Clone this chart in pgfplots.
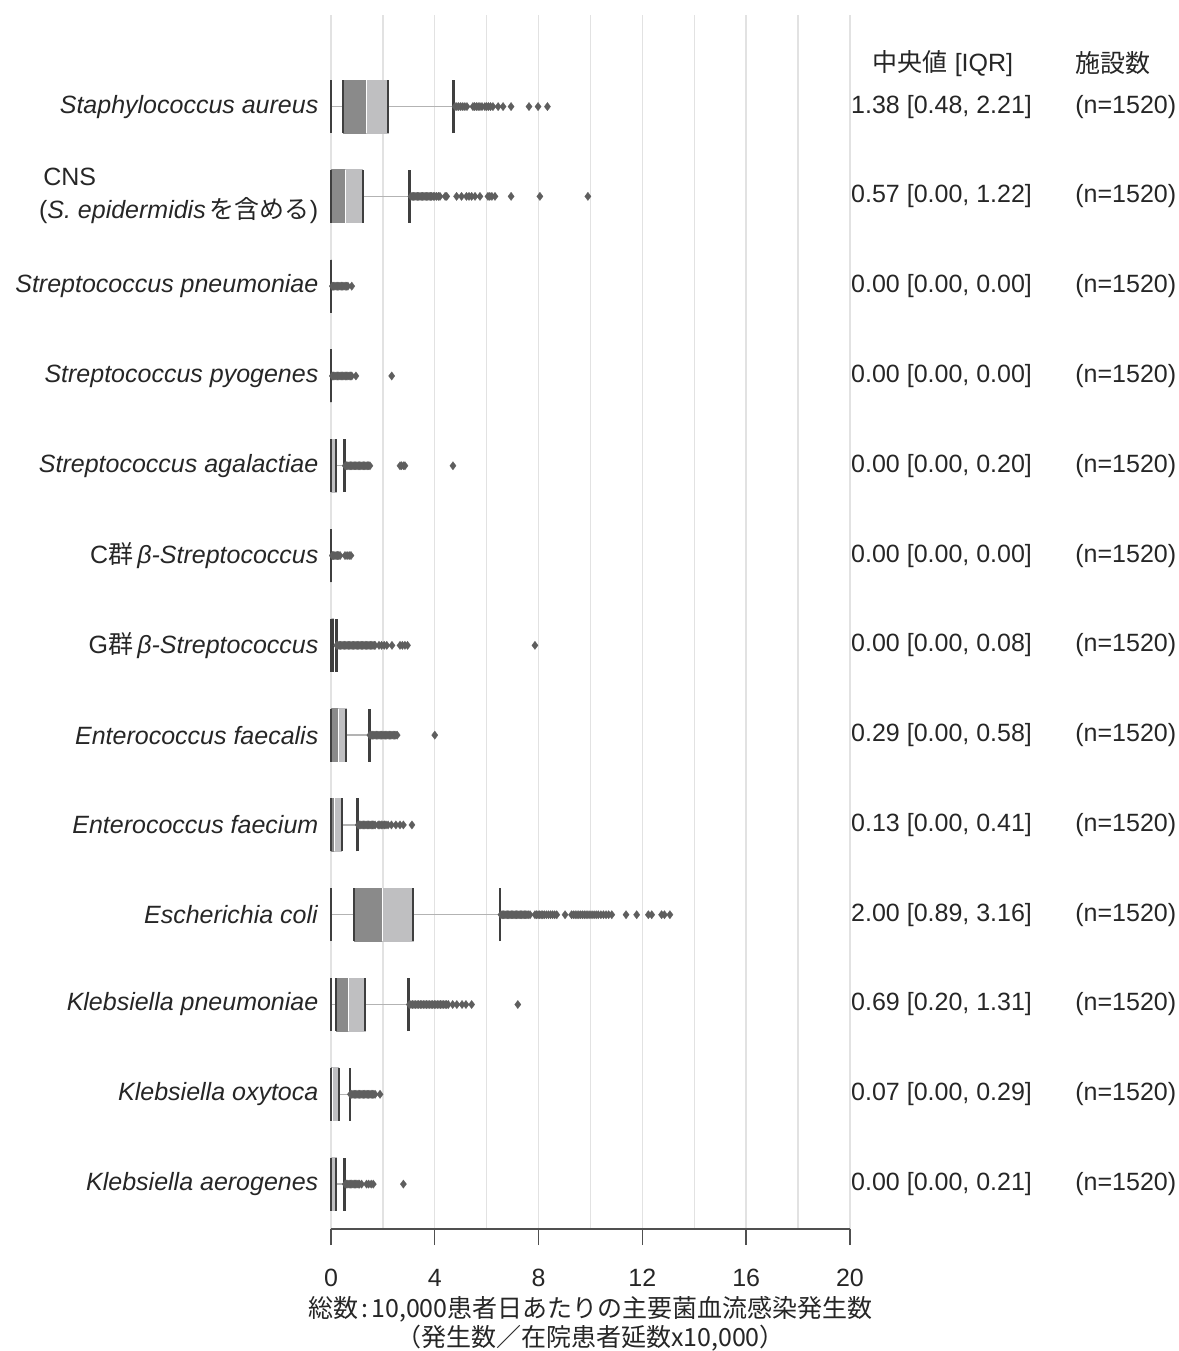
\documentclass[border=0pt]{standalone}
\usepackage{fontspec}
\setmainfont{Liberation Sans}
\newfontfamily\jp{Noto Sans CJK JP}
\usepackage{pgfplots}
\pgfplotsset{compat=1.18}
\usepgfplotslibrary{statistics}
\definecolor{boxdark}{HTML}{8A8A8A}
\definecolor{boxlight}{HTML}{BFBFC1}
\definecolor{capcol}{HTML}{3F3F3F}
\definecolor{whiskcol}{HTML}{B3B3B3}
\definecolor{outcol}{HTML}{5E5E5E}
\definecolor{gridcol}{HTML}{E2E2E2}
\definecolor{axcol}{HTML}{505050}
\definecolor{txtcol}{HTML}{262626}
\newcommand\fs{\fontsize{12.5}{15}\selectfont}
\pgfplotsset{
  mybox/.style={
    mark=diamond*, mark size=2.1pt,
    mark options={fill=outcol, draw=outcol, line width=0.1pt},
    boxplot/box extend=0.59, boxplot/whisker extend=0.59,
    boxplot/draw/box/.code={%
      \fill[boxdark] (boxplot box cs:\pgfplotsboxplotvalue{lower quartile},0) rectangle (boxplot box cs:\pgfplotsboxplotvalue{median},1);
      \fill[boxlight] (boxplot box cs:\pgfplotsboxplotvalue{median},0) rectangle (boxplot box cs:\pgfplotsboxplotvalue{upper quartile},1);
      \draw[white, line width=0.5pt] (boxplot box cs:\pgfplotsboxplotvalue{median},0) -- (boxplot box cs:\pgfplotsboxplotvalue{median},1);
      \draw[capcol, line width=1pt] (boxplot box cs:\pgfplotsboxplotvalue{lower quartile},0) -- (boxplot box cs:\pgfplotsboxplotvalue{lower quartile},1);
      \draw[capcol, line width=1pt] (boxplot box cs:\pgfplotsboxplotvalue{upper quartile},0) -- (boxplot box cs:\pgfplotsboxplotvalue{upper quartile},1);
    },
    boxplot/draw/median/.code={},
    boxplot/draw/lower whisker/.code={%
      \draw[whiskcol, line width=0.7pt] (boxplot cs:\pgfplotsboxplotvalue{lower quartile}) -- (boxplot cs:\pgfplotsboxplotvalue{lower whisker});
      \draw[capcol, line width=1.4pt] (boxplot whisker cs:\pgfplotsboxplotvalue{lower whisker},0) -- (boxplot whisker cs:\pgfplotsboxplotvalue{lower whisker},1);
    },
    boxplot/draw/upper whisker/.code={%
      \draw[whiskcol, line width=0.7pt] (boxplot cs:\pgfplotsboxplotvalue{upper quartile}) -- (boxplot cs:\pgfplotsboxplotvalue{upper whisker});
      \draw[capcol, line width=1.4pt] (boxplot whisker cs:\pgfplotsboxplotvalue{upper whisker},0) -- (boxplot whisker cs:\pgfplotsboxplotvalue{upper whisker},1);
    },
  }
}
\begin{document}
\begin{tikzpicture}
\begin{axis}[
  scale only axis, width=259.5pt, height=607pt,
  xmin=0, xmax=20, ymin=0.50, ymax=14.02,
  axis x line*=bottom, axis y line*=left,
  x axis line style={draw=axcol, line width=0.7pt, -},
  y axis line style={draw=none},
  xtick={0,4,...,20}, minor xtick={2,6,...,18},
  xmajorgrids, xminorgrids,
  major grid style={draw=gridcol, line width=0.7pt},
  minor grid style={draw=gridcol, line width=0.7pt},
  tick align=outside,
  xtick style={draw=axcol, line width=0.7pt},
  major tick length=8pt, minor tick length=0pt,
  /pgf/number format/assume math mode=true,
  xticklabel style={font=\fs, text=txtcol, yshift=-8.5pt},
  ytick={1,...,13}, ytick style={draw=none},
  yticklabel style={font=\fs, text=txtcol, anchor=east, xshift=5.2pt},
  yticklabels={
    \textit{Klebsiella aerogenes},
    \textit{Klebsiella oxytoca},
    \textit{Klebsiella pneumoniae},
    \textit{Escherichia coli},
    \textit{Enterococcus faecium},
    \textit{Enterococcus faecalis},
    G{\jp 群}\,\textit{β-Streptococcus},
    C{\jp 群}\,\textit{β-Streptococcus},
    \textit{Streptococcus agalactiae},
    \textit{Streptococcus pyogenes},
    \textit{Streptococcus pneumoniae},
    {\begin{tabular}{@{}l@{}}\,CNS\\[1.5pt](\textit{S. epidermidis}\,{\jp を含める})\end{tabular}},
    \textit{Staphylococcus aureus}
  },
  xlabel={総数\hspace{0.12em}:\hspace{0.12em}10,000患者日あたりの主要菌血流感染発生数\\（発生数／在院患者延数x10,000）},
  xlabel style={font=\fontsize{12.5}{14.5}\selectfont\jp, text=txtcol, align=center,
    at={(axis description cs:0.5,0)}, anchor=center, yshift=-47.5pt},
  clip=false,
]
% 13 Staphylococcus aureus
\addplot[mybox, boxplot prepared={draw position=13, lower whisker=0, lower quartile=0.48, median=1.38, upper quartile=2.21, upper whisker=4.72}]
  table[row sep=\\, y index=0]{v\\4.78\\4.85\\4.92\\5.00\\5.08\\5.16\\5.24\\5.47\\5.53\\5.60\\5.67\\5.74\\5.82\\5.93\\6.00\\6.07\\6.15\\6.24\\6.44\\6.63\\6.94\\7.63\\7.98\\8.34\\};
% 12 CNS
\addplot[mybox, boxplot prepared={draw position=12, lower whisker=0, lower quartile=0, median=0.57, upper quartile=1.22, upper whisker=3.04}]
  table[row sep=\\, y index=0]{v\\3.08\\3.13\\3.18\\3.23\\3.28\\3.33\\3.38\\3.43\\3.48\\3.53\\3.58\\3.63\\3.68\\3.73\\3.78\\3.83\\3.88\\3.94\\4.00\\4.07\\4.14\\4.20\\4.40\\4.46\\4.84\\5.03\\5.22\\5.32\\5.42\\5.55\\5.74\\6.05\\6.12\\6.20\\6.32\\6.94\\8.05\\9.90\\};
% 11 Streptococcus pneumoniae
\addplot[mybox, boxplot prepared={draw position=11, lower whisker=0, lower quartile=0, median=0, upper quartile=0, upper whisker=0}]
  table[row sep=\\, y index=0]{v\\0.05\\0.10\\0.15\\0.20\\0.25\\0.30\\0.35\\0.40\\0.45\\0.50\\0.55\\0.60\\0.65\\0.80\\};
% 10 Streptococcus pyogenes
\addplot[mybox, boxplot prepared={draw position=10, lower whisker=0, lower quartile=0, median=0, upper quartile=0, upper whisker=0}]
  table[row sep=\\, y index=0]{v\\0.05\\0.10\\0.15\\0.20\\0.25\\0.30\\0.35\\0.40\\0.45\\0.50\\0.55\\0.60\\0.65\\0.70\\0.75\\0.80\\0.96\\2.34\\};
% 9 Streptococcus agalactiae
\addplot[mybox, boxplot prepared={draw position=9, lower whisker=0, lower quartile=0, median=0, upper quartile=0.20, upper whisker=0.51}]
  table[row sep=\\, y index=0]{v\\0.55\\0.60\\0.65\\0.70\\0.75\\0.80\\0.85\\0.90\\0.95\\1.00\\1.05\\1.10\\1.15\\1.20\\1.25\\1.30\\1.35\\1.40\\1.45\\1.50\\2.66\\2.72\\2.80\\2.85\\4.70\\};
% 8 C群
\addplot[mybox, boxplot prepared={draw position=8, lower whisker=0, lower quartile=0, median=0, upper quartile=0, upper whisker=0}]
  table[row sep=\\, y index=0]{v\\0.05\\0.10\\0.15\\0.20\\0.25\\0.30\\0.35\\0.54\\0.62\\0.70\\0.77\\};
% 7 G群
\addplot[mybox, boxplot prepared={draw position=7, lower whisker=0, lower quartile=0, median=0, upper quartile=0.08, upper whisker=0.20}]
  table[row sep=\\, y index=0]{v\\0.22\\0.27\\0.32\\0.37\\0.42\\0.47\\0.52\\0.57\\0.62\\0.67\\0.72\\0.77\\0.82\\0.87\\0.92\\0.97\\1.02\\1.07\\1.12\\1.17\\1.22\\1.27\\1.32\\1.37\\1.42\\1.47\\1.52\\1.57\\1.62\\1.67\\1.70\\1.85\\1.95\\2.05\\2.15\\2.35\\2.66\\2.75\\2.85\\2.95\\7.86\\};
% 6 Enterococcus faecalis
\addplot[mybox, boxplot prepared={draw position=6, lower whisker=0, lower quartile=0, median=0.29, upper quartile=0.58, upper whisker=1.47}]
  table[row sep=\\, y index=0]{v\\1.50\\1.55\\1.60\\1.65\\1.70\\1.75\\1.80\\1.85\\1.90\\1.95\\2.00\\2.05\\2.10\\2.15\\2.20\\2.25\\2.30\\2.35\\2.40\\2.45\\2.50\\2.55\\4.00\\};
% 5 Enterococcus faecium
\addplot[mybox, boxplot prepared={draw position=5, lower whisker=0, lower quartile=0, median=0.13, upper quartile=0.41, upper whisker=1.01}]
  table[row sep=\\, y index=0]{v\\1.05\\1.10\\1.15\\1.20\\1.25\\1.30\\1.35\\1.40\\1.45\\1.50\\1.55\\1.60\\1.65\\1.70\\1.82\\1.88\\1.94\\2.00\\2.06\\2.12\\2.20\\2.33\\2.50\\2.66\\2.79\\3.12\\};
% 4 Escherichia coli
\addplot[mybox, boxplot prepared={draw position=4, lower whisker=0, lower quartile=0.89, median=2.00, upper quartile=3.16, upper whisker=6.51}]
  table[row sep=\\, y index=0]{v\\6.55\\6.60\\6.65\\6.70\\6.75\\6.80\\6.85\\6.90\\6.95\\7.00\\7.05\\7.10\\7.15\\7.20\\7.25\\7.30\\7.35\\7.40\\7.45\\7.50\\7.55\\7.60\\7.67\\7.86\\7.92\\7.98\\8.04\\8.10\\8.16\\8.22\\8.30\\8.38\\8.46\\8.54\\8.62\\8.70\\9.02\\9.27\\9.34\\9.41\\9.48\\9.55\\9.62\\9.69\\9.76\\9.83\\9.90\\9.98\\10.06\\10.14\\10.22\\10.30\\10.40\\10.50\\10.60\\10.70\\10.82\\11.37\\11.78\\12.23\\12.36\\12.74\\12.85\\13.06\\};
% 3 Klebsiella pneumoniae
\addplot[mybox, boxplot prepared={draw position=3, lower whisker=0, lower quartile=0.20, median=0.69, upper quartile=1.31, upper whisker=2.98}]
  table[row sep=\\, y index=0]{v\\3.02\\3.08\\3.14\\3.20\\3.26\\3.32\\3.38\\3.44\\3.50\\3.56\\3.62\\3.68\\3.74\\3.80\\3.86\\3.92\\3.98\\4.04\\4.10\\4.16\\4.22\\4.28\\4.34\\4.40\\4.46\\4.52\\4.69\\4.85\\5.05\\5.20\\5.42\\7.20\\};
% 2 Klebsiella oxytoca
\addplot[mybox, boxplot prepared={draw position=2, lower whisker=0, lower quartile=0, median=0.07, upper quartile=0.29, upper whisker=0.73}]
  table[row sep=\\, y index=0]{v\\0.75\\0.80\\0.85\\0.90\\0.95\\1.00\\1.05\\1.10\\1.15\\1.20\\1.25\\1.30\\1.35\\1.40\\1.45\\1.50\\1.55\\1.60\\1.65\\1.70\\1.89\\};
% 1 Klebsiella aerogenes
\addplot[mybox, boxplot prepared={draw position=1, lower whisker=0, lower quartile=0, median=0, upper quartile=0.21, upper whisker=0.52}]
  table[row sep=\\, y index=0]{v\\0.55\\0.60\\0.65\\0.70\\0.75\\0.80\\0.85\\0.90\\0.95\\1.00\\1.05\\1.10\\1.18\\1.37\\1.45\\1.55\\1.63\\2.79\\};
% right-hand columns
\begin{scope}[every node/.style={font=\fs, text=txtcol, inner sep=0pt}]
\node[anchor=center] at ([xshift=46.5pt]axis cs:20,13.48) {{\jp 中央値} [IQR]};
\node[anchor=west] at ([xshift=112.5pt]axis cs:20,13.48) {\jp 施設数};
\node[anchor=center] at ([xshift=45.8pt]axis cs:20,13) {1.38 [0.48, 2.21]};
\node[anchor=center] at ([xshift=45.8pt]axis cs:20,12) {0.57 [0.00, 1.22]};
\node[anchor=center] at ([xshift=45.8pt]axis cs:20,11) {0.00 [0.00, 0.00]};
\node[anchor=center] at ([xshift=45.8pt]axis cs:20,10) {0.00 [0.00, 0.00]};
\node[anchor=center] at ([xshift=45.8pt]axis cs:20,9) {0.00 [0.00, 0.20]};
\node[anchor=center] at ([xshift=45.8pt]axis cs:20,8) {0.00 [0.00, 0.00]};
\node[anchor=center] at ([xshift=45.8pt]axis cs:20,7) {0.00 [0.00, 0.08]};
\node[anchor=center] at ([xshift=45.8pt]axis cs:20,6) {0.29 [0.00, 0.58]};
\node[anchor=center] at ([xshift=45.8pt]axis cs:20,5) {0.13 [0.00, 0.41]};
\node[anchor=center] at ([xshift=45.8pt]axis cs:20,4) {2.00 [0.89, 3.16]};
\node[anchor=center] at ([xshift=45.8pt]axis cs:20,3) {0.69 [0.20, 1.31]};
\node[anchor=center] at ([xshift=45.8pt]axis cs:20,2) {0.07 [0.00, 0.29]};
\node[anchor=center] at ([xshift=45.8pt]axis cs:20,1) {0.00 [0.00, 0.21]};
\node[anchor=west] at ([xshift=112.5pt]axis cs:20,13) {(n=1520)};
\node[anchor=west] at ([xshift=112.5pt]axis cs:20,12) {(n=1520)};
\node[anchor=west] at ([xshift=112.5pt]axis cs:20,11) {(n=1520)};
\node[anchor=west] at ([xshift=112.5pt]axis cs:20,10) {(n=1520)};
\node[anchor=west] at ([xshift=112.5pt]axis cs:20,9) {(n=1520)};
\node[anchor=west] at ([xshift=112.5pt]axis cs:20,8) {(n=1520)};
\node[anchor=west] at ([xshift=112.5pt]axis cs:20,7) {(n=1520)};
\node[anchor=west] at ([xshift=112.5pt]axis cs:20,6) {(n=1520)};
\node[anchor=west] at ([xshift=112.5pt]axis cs:20,5) {(n=1520)};
\node[anchor=west] at ([xshift=112.5pt]axis cs:20,4) {(n=1520)};
\node[anchor=west] at ([xshift=112.5pt]axis cs:20,3) {(n=1520)};
\node[anchor=west] at ([xshift=112.5pt]axis cs:20,2) {(n=1520)};
\node[anchor=west] at ([xshift=112.5pt]axis cs:20,1) {(n=1520)};
\end{scope}
\end{axis}
\pgfresetboundingbox
\path ([shift={(-165.5pt,-61pt)}]current axis.south west) rectangle ([shift={(164.5pt,7.5pt)}]current axis.north east);
\end{tikzpicture}
\end{document}
